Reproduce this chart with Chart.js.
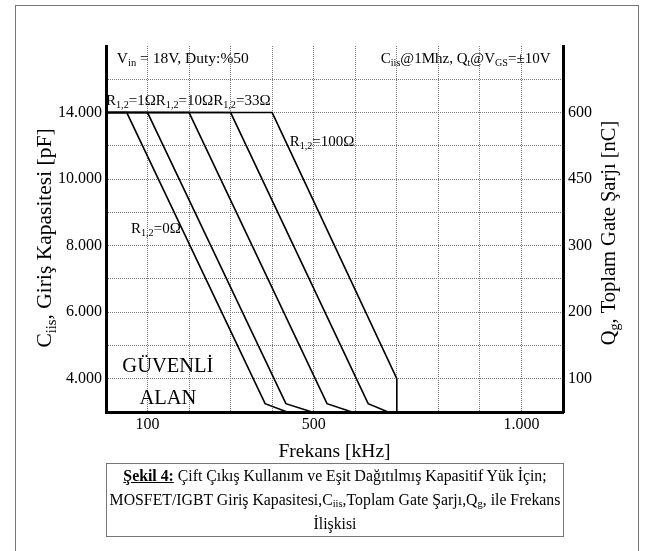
<!DOCTYPE html>
<html>
<head>
<meta charset="utf-8">
<script src="https://cdn.jsdelivr.net/npm/chart.js@4.4.0/dist/chart.umd.min.js"></script>
<style>
  html, body { margin: 0; padding: 0; background: #fff; }
  body { width: 653px; height: 551px; position: relative; overflow: hidden; }
  #frame {
    position: absolute; left: 15px; top: 5px; width: 622px; height: 600px;
    border: 1px solid #777;
  }
  #chart { position: absolute; left: 0; top: 0; }
  #caption {
    position: absolute; left: 106px; top: 463px; width: 456px; height: 72px;
    border: 1px solid #777;
    font-family: "Liberation Serif", serif; font-size: 15.8px; color: #000;
    text-align: center; line-height: 24px; white-space: nowrap;
  }
  #caption sub { font-size: 10.5px; vertical-align: -2px; line-height: 0; }
</style>
</head>
<body>
<div id="frame"></div>
<canvas id="chart" width="653" height="551"></canvas>
<div id="caption">
  <u><b>Şekil 4:</b></u> Çift Çıkış Kullanım ve Eşit Dağıtılmış Kapasitif Yük İçin;<br>
  MOSFET/IGBT Giriş Kapasitesi,C<sub>iis</sub>,Toplam Gate Şarjı,Q<sub>g</sub>, ile Frekans<br>
  İlişkisi
</div>
<script>
// frekans ekseni (kHz), etiketli tikler
const xTickValues = [100, 500, 1000];
const xTickLabels = ['100', '500', '1.000'];

// dikey eksen eşit aralıklı değil: etiketler ızgara seviyelerine oturuyor
const yTickLevels = [1, 3, 5, 7, 9];
const ciisLabels = ['4.000', '6.000', '8.000', '10.000', '14.000'];
const qgLabels = ['100', '200', '300', '450', '600'];

// eğriler (x: kHz, y: ızgara seviyesi)
const seriesNames = ['R0', 'R1', 'R10', 'R33', 'R100'];
const r0X = [0, 50, 383, 436];
const r0Y = [9, 9, 0.25, 0];
const r1X = [0, 100, 433, 496];
const r1Y = [9, 9, 0.25, 0];
const r10X = [0, 200, 532, 592];
const r10Y = [9, 9, 0.25, 0];
const r33X = [0, 300, 631, 679];
const r33Y = [9, 9, 0.25, 0];
const r100X = [0, 400, 700, 700];
const r100Y = [9, 9, 1, 0];

const FONT = '"Liberation Serif", serif';

function toPoints(xs, ys) {
    return xs.map((x, i) => ({ x: x, y: ys[i] }));
}

// alt simge destekli metin: "C_{iis}" gibi
function drawRich(ctx, str, x, y, size, align) {
    const parts = str.split(/(_\{[^}]*\})/).filter(Boolean).map(p =>
        p.startsWith('_{') ? { t: p.slice(2, -1), sub: true } : { t: p, sub: false });
    let total = 0;
    parts.forEach(p => {
        ctx.font = (p.sub ? size * 0.68 : size) + 'px ' + FONT;
        p.w = ctx.measureText(p.t).width;
        total += p.w;
    });
    let cx = align === 'center' ? x - total / 2 : (align === 'right' ? x - total : x);
    ctx.textAlign = 'left';
    ctx.textBaseline = 'alphabetic';
    parts.forEach(p => {
        ctx.font = (p.sub ? size * 0.68 : size) + 'px ' + FONT;
        ctx.fillText(p.t, cx, p.sub ? y + size * 0.22 : y);
        cx += p.w;
    });
}

// grafik içi yazılar, veri koordinatlarında
const notes = [
    { text: 'V_{in} = 18V, Duty:%50', x: 26, y: 10.64, size: 15.5, align: 'left' },
    { text: 'C_{iis}@1Mhz, Q_{t}@V_{GS}=±10V', x: 1070, y: 10.64, size: 15, align: 'right' },
    { text: 'R_{1,2}=1ΩR_{1,2}=10ΩR_{1,2}=33Ω', x: 0, y: 9.38, size: 15, align: 'left' },
    { text: 'R_{1,2}=100Ω', x: 442, y: 8.15, size: 15, align: 'left' },
    { text: 'R_{1,2}=0Ω', x: 60, y: 5.53, size: 15, align: 'left' },
    { text: 'GÜVENLİ', x: 149, y: 1.41, size: 20.5, align: 'center' },
    { text: 'ALAN', x: 149, y: 0.45, size: 20.5, align: 'center' }
];

const labelsPlugin = {
    id: 'labels',
    afterDraw(chart) {
        const { ctx, chartArea, scales } = chart;
        ctx.save();
        ctx.fillStyle = '#000';
        notes.forEach(n => {
            const px = scales.x.getPixelForValue(n.x);
            const py = scales.y.getPixelForValue(n.y);
            drawRich(ctx, n.text, px, py + n.size * 0.32, n.size, n.align);
        });

        // eksen başlıkları
        const midX = (chartArea.left + chartArea.right) / 2;
        drawRich(ctx, 'Frekans [kHz]', midX, chartArea.bottom + 45, 19.5, 'center');

        ctx.save();
        ctx.translate(chartArea.left - 62, chartArea.top + 192);
        ctx.rotate(-Math.PI / 2);
        drawRich(ctx, 'C_{iis}, Giriş Kapasitesi [pF]', 0, 21.5 * 0.32, 21.5, 'center');
        ctx.restore();

        ctx.save();
        ctx.translate(chartArea.right + 45, chartArea.top + 187);
        ctx.rotate(-Math.PI / 2);
        drawRich(ctx, 'Q_{g}, Toplam Gate Şarjı [nC]', 0, 20.5 * 0.32, 20.5, 'center');
        ctx.restore();
        ctx.restore();
    }
};

const gridColor = '#777';
const lineData = [
    toPoints(r0X, r0Y),
    toPoints(r1X, r1Y),
    toPoints(r10X, r10Y),
    toPoints(r33X, r33Y),
    toPoints(r100X, r100Y)
];

new Chart(document.getElementById('chart'), {
    type: 'scatter',
    data: {
        datasets: lineData.map((pts, i) => ({
            label: seriesNames[i],
            data: pts,
            showLine: true,
            borderColor: '#000',
            borderWidth: 1.6,
            pointRadius: 0,
            fill: false,
            tension: 0
        }))
    },
    options: {
        responsive: false,
        animation: false,
        layout: { padding: { top: 46, left: 0, right: 0, bottom: 0 } },
        plugins: {
            legend: { display: false },
            tooltip: { enabled: false }
        },
        scales: {
            x: {
                type: 'linear',
                min: 0,
                max: 1100,
                afterFit: scale => { scale.height = 139; },
                border: { display: true, width: 3, color: '#000', dash: [1, 1] },
                grid: {
                    color: ctx => (ctx.tick && (ctx.tick.value === 0 || ctx.tick.value === 1100)) ? 'transparent' : gridColor,
                    lineWidth: 1,
                    drawTicks: false
                },
                ticks: {
                    stepSize: 100,
                    autoSkip: false,
                    maxRotation: 0,
                    padding: 3,
                    color: '#000',
                    font: { family: FONT, size: 16 },
                    callback: value => {
                        const i = xTickValues.indexOf(value);
                        return i >= 0 ? xTickLabels[i] : '';
                    }
                }
            },
            y: {
                type: 'linear',
                position: 'left',
                min: 0,
                max: 11,
                afterFit: scale => { scale.width = 106; },
                border: { display: true, width: 3, color: '#000', dash: [1, 1] },
                grid: {
                    color: ctx => (ctx.tick && (ctx.tick.value === 0 || ctx.tick.value === 11)) ? 'transparent' : gridColor,
                    lineWidth: 1,
                    drawTicks: false
                },
                ticks: {
                    stepSize: 1,
                    autoSkip: false,
                    padding: 4,
                    color: '#000',
                    font: { family: FONT, size: 16 },
                    callback: value => {
                        const i = yTickLevels.indexOf(value);
                        return i >= 0 ? ciisLabels[i] : '';
                    }
                }
            },
            y2: {
                type: 'linear',
                position: 'right',
                min: 0,
                max: 11,
                afterFit: scale => { scale.width = 90; },
                border: { display: true, width: 3, color: '#000' },
                grid: { display: false, drawTicks: false },
                ticks: {
                    stepSize: 1,
                    autoSkip: false,
                    padding: 5,
                    color: '#000',
                    font: { family: FONT, size: 16 },
                    callback: value => {
                        const i = yTickLevels.indexOf(value);
                        return i >= 0 ? qgLabels[i] : '';
                    }
                }
            }
        }
    },
    plugins: [labelsPlugin]
});
</script>
</body>
</html>
